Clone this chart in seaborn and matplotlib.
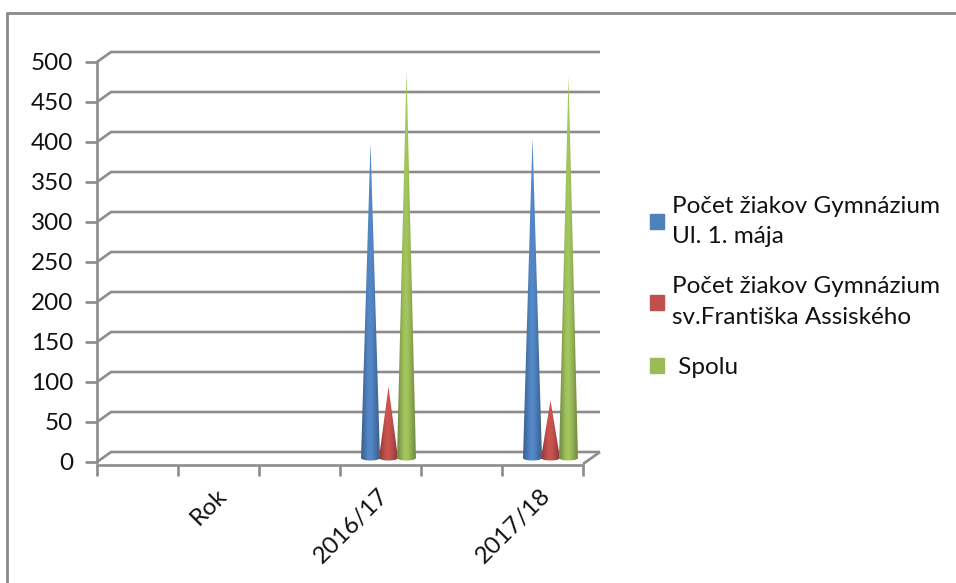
import numpy as np
import pandas as pd
import matplotlib
matplotlib.use("Agg")
import matplotlib.pyplot as plt
import matplotlib.colors as mc
from matplotlib.lines import Line2D
from matplotlib.patches import Patch, Polygon
from matplotlib.transforms import offset_copy
import seaborn as sns

# ---- data -----------------------------------------------------------------
slots = ["a", "Rok", "b", "2016/17", "c", "2017/18"]
tick_labels = ["", "Rok", "", "2016/17", "", "2017/18"]
gym_maja = [np.nan, np.nan, np.nan, 394, np.nan, 401]
gym_assisi = [np.nan, np.nan, np.nan, 89, np.nan, 72]
spolu = [np.nan, np.nan, np.nan, 484, np.nan, 478]
series_names = ["Počet žiakov Gymnázium\nUl. 1. mája",
                "Počet žiakov Gymnázium\nsv.Františka Assiského",
                " Spolu"]
series_colors = ["#4F81BD", "#C0504D", "#9BBB59"]
y_ticks = list(range(0, 501, 50))

sns.set_theme(style="white")
plt.rcParams["font.family"] = ["Lato", "DejaVu Sans"]

W, H = 956, 583
fig = plt.figure(figsize=(W / 100, H / 100), dpi=100, facecolor="white")
ax = fig.add_axes([97 / W, (H - 462) / H, 486 / W, 400 / H])

df = pd.DataFrame({
    "slot": slots * 3,
    "value": gym_maja + gym_assisi + spolu,
    "series": sum([[s] * len(slots) for s in series_names], []),
})
sns.barplot(data=df, x="slot", y="value", hue="series", order=slots,
            hue_order=series_names, palette=series_colors, width=2 / 3,
            saturation=1, legend=False, ax=ax, errorbar=None)

GREY = "#8C8C8C"
px_x = 1 / 81          # one pixel in category units
px_y = 1 / 0.8         # one pixel in value units
depth_x, depth_y = 14 * px_x, 10 * px_y

ax.set_xlim(-0.5, 5.5)
ax.set_ylim(0, 500)
ax.set_xlabel("")
ax.set_ylabel("")

# replace every bar with a shaded cone at the bar's own position and height
for bar in list(ax.patches):
    h = bar.get_height()
    bar.set_visible(False)
    if not np.isfinite(h) or h <= 0:
        continue
    base = np.array(mc.to_rgb(bar.get_facecolor()))
    cx = bar.get_x() + bar.get_width() / 2 + 8 * px_x
    hw = bar.get_width() / 2 + 0.5 * px_x
    y0 = 5.0
    t = np.linspace(np.pi, 2 * np.pi, 30)
    arc_x = cx + hw * np.cos(t)
    arc_y = y0 + 2.5 * px_y * np.sin(t)
    pts = np.column_stack([np.r_[cx, arc_x], np.r_[h + y0, arc_y]])
    stops = np.array([0.78, 0.9, 1.03, 1.06, 1.0, 0.88, 0.78])
    grad = np.clip(stops[:, None] * base, 0, 1)[None, :, :]
    im = ax.imshow(grad, extent=(cx - hw, cx + hw, 0, h + y0), aspect="auto",
                   interpolation="bilinear", zorder=3, origin="lower")
    clip = Polygon(pts, closed=True, transform=ax.transData, fc="none", ec="none")
    ax.add_patch(clip)
    im.set_clip_path(clip)

ax.set_xlim(-0.5, 5.5)
ax.set_ylim(0, 500)

# walls of the pseudo-3D frame
line_kw = dict(color=GREY, lw=1.9, clip_on=False, zorder=1, solid_capstyle="butt")
for v in y_ticks:
    ax.plot([-0.5, -0.5 + depth_x, 5.5 + 17 * px_x],
            [v, v + depth_y, v + depth_y], **line_kw)
ax.plot([5.5, 5.5 + 17 * px_x], [-2 * px_y, depth_y], **line_kw)

ax.set_yticks(y_ticks)
ax.set_xticks(np.arange(-0.5, 6))
ax.set_xticklabels([])
ax.tick_params(axis="x", length=8, width=1.9, color=GREY, bottom=True)
ax.tick_params(axis="y", length=9, width=1.9, color=GREY, left=True, pad=8,
               labelsize=17.5, labelcolor="#111111")

# category names: rotated, ending under the middle of their slot
label_tf = offset_copy(ax.get_xaxis_transform(), fig=fig, x=-0.03, y=-0.23, units="inches")
for pos, name in enumerate(tick_labels):
    if name:
        ax.text(pos, 0, name, transform=label_tf, rotation=45, ha="right", va="top",
                rotation_mode="anchor", fontsize=17.5, color="#111111", clip_on=False)

for s in ["top", "right"]:
    ax.spines[s].set_visible(False)
for s in ["left", "bottom"]:
    ax.spines[s].set_color(GREY)
    ax.spines[s].set_linewidth(1.9)
ax.spines["bottom"].set_position(("outward", 2))
ax.patch.set_alpha(0)

# legend
handles = [Patch(color=c, label=n) for c, n in zip(series_colors, series_names)]
leg = ax.legend(
    handles=handles, frameon=False, fontsize=17.5,
    bbox_to_anchor=(650 / W, (H - 378) / H), bbox_transform=fig.transFigure,
    loc="lower left", borderpad=0, borderaxespad=0,
    handlelength=0.58, handleheight=0.58, handletextpad=0.33, labelspacing=1.2,
)
for t in leg.get_texts():
    t.set_linespacing(1.55)
    t.set_color("#111111")

# outer frame of the chart area: only the top and left edges are in view
frame_kw = dict(color="#8A8A8A", lw=2, transform=fig.transFigure)
fig.add_artist(Line2D([6.5 / W, 6.5 / W], [0, (H - 13) / H], **frame_kw))
fig.add_artist(Line2D([6.5 / W, 1], [(H - 13) / H, (H - 13) / H], **frame_kw))

fig.savefig("out.png", dpi=100, facecolor="white")
